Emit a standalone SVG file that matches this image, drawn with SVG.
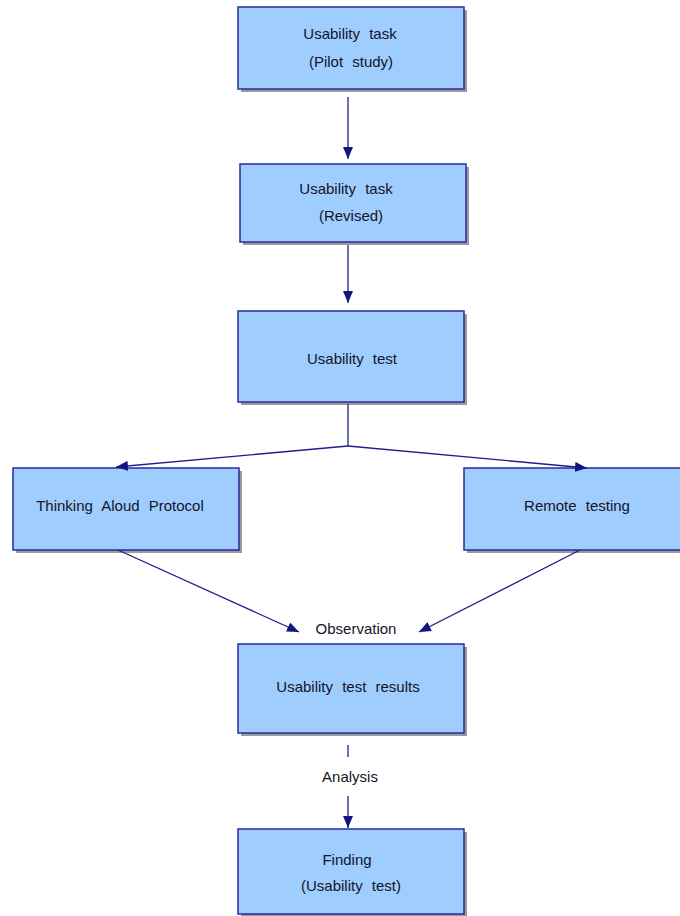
<svg xmlns="http://www.w3.org/2000/svg" width="680" height="916" viewBox="0 0 680 916">
<style>
.box{fill:#9fcdfe;stroke:#2a2aa0;stroke-width:1.5}
.sh{fill:#9a9a9a}
.t{font-family:"Liberation Sans",Arial,sans-serif;font-size:15px;fill:#141428;text-anchor:middle;word-spacing:5px}
.c{stroke:#1e1e8c;stroke-width:1.3;fill:none}
</style>
<defs>
<marker id="a" viewBox="0 0 12 10" refX="12" refY="5" markerWidth="12" markerHeight="10" markerUnits="userSpaceOnUse" orient="auto">
<path d="M0,0 L12,5 L0,10 z" fill="#141480"/>
</marker>
</defs>
<rect width="680" height="916" fill="#fff"/>
<g id="n1"><rect class="sh" x="241" y="10" width="226" height="82"/><rect class="box" x="238" y="7" width="226" height="82"/><text class="t" x="350" y="39">Usability task</text><text class="t" x="351" y="67">(Pilot study)</text></g>
<g id="n2"><rect class="sh" x="243" y="167" width="226" height="78"/><rect class="box" x="240" y="164" width="226" height="78"/><text class="t" x="346" y="194">Usability task</text><text class="t" x="351" y="221">(Revised)</text></g>
<g id="n3"><rect class="sh" x="241" y="314" width="226" height="91"/><rect class="box" x="238" y="311" width="226" height="91"/><text class="t" x="352" y="364">Usability test</text></g>
<g id="n4"><rect class="sh" x="16" y="471" width="226" height="82"/><rect class="box" x="13" y="468" width="226" height="82"/><text class="t" x="120" y="511">Thinking Aloud Protocol</text></g>
<g id="n5"><rect class="sh" x="467" y="471" width="226" height="82"/><rect class="box" x="464" y="468" width="226" height="82"/><text class="t" x="577" y="511">Remote testing</text></g>
<g id="n6"><rect class="sh" x="241" y="647" width="226" height="89"/><rect class="box" x="238" y="644" width="226" height="89"/><text class="t" x="348" y="692">Usability test results</text></g>
<g id="n7"><rect class="sh" x="241" y="832" width="226" height="85"/><rect class="box" x="238" y="829" width="226" height="85"/><text class="t" x="347" y="865">Finding</text><text class="t" x="351" y="891">(Usability test)</text></g>
<g id="connectors">
<line class="c" x1="348" y1="97" x2="348" y2="159" marker-end="url(#a)"/>
<line class="c" x1="348" y1="245" x2="348" y2="303" marker-end="url(#a)"/>
<polyline class="c" points="348,404 348,446"/>
<line class="c" x1="348" y1="446" x2="116" y2="467" marker-end="url(#a)"/>
<line class="c" x1="348" y1="446" x2="587" y2="468" marker-end="url(#a)"/>
<line class="c" x1="118" y1="550" x2="299" y2="632" marker-end="url(#a)"/>
<line class="c" x1="580" y1="550" x2="419" y2="632" marker-end="url(#a)"/>
<line class="c" x1="348" y1="745" x2="348" y2="757"/>
<line class="c" x1="348" y1="796" x2="348" y2="828" marker-end="url(#a)"/>
</g>
<text class="t" x="356" y="634" style="word-spacing:0">Observation</text>
<text class="t" x="350" y="782" style="word-spacing:0">Analysis</text>
</svg>
